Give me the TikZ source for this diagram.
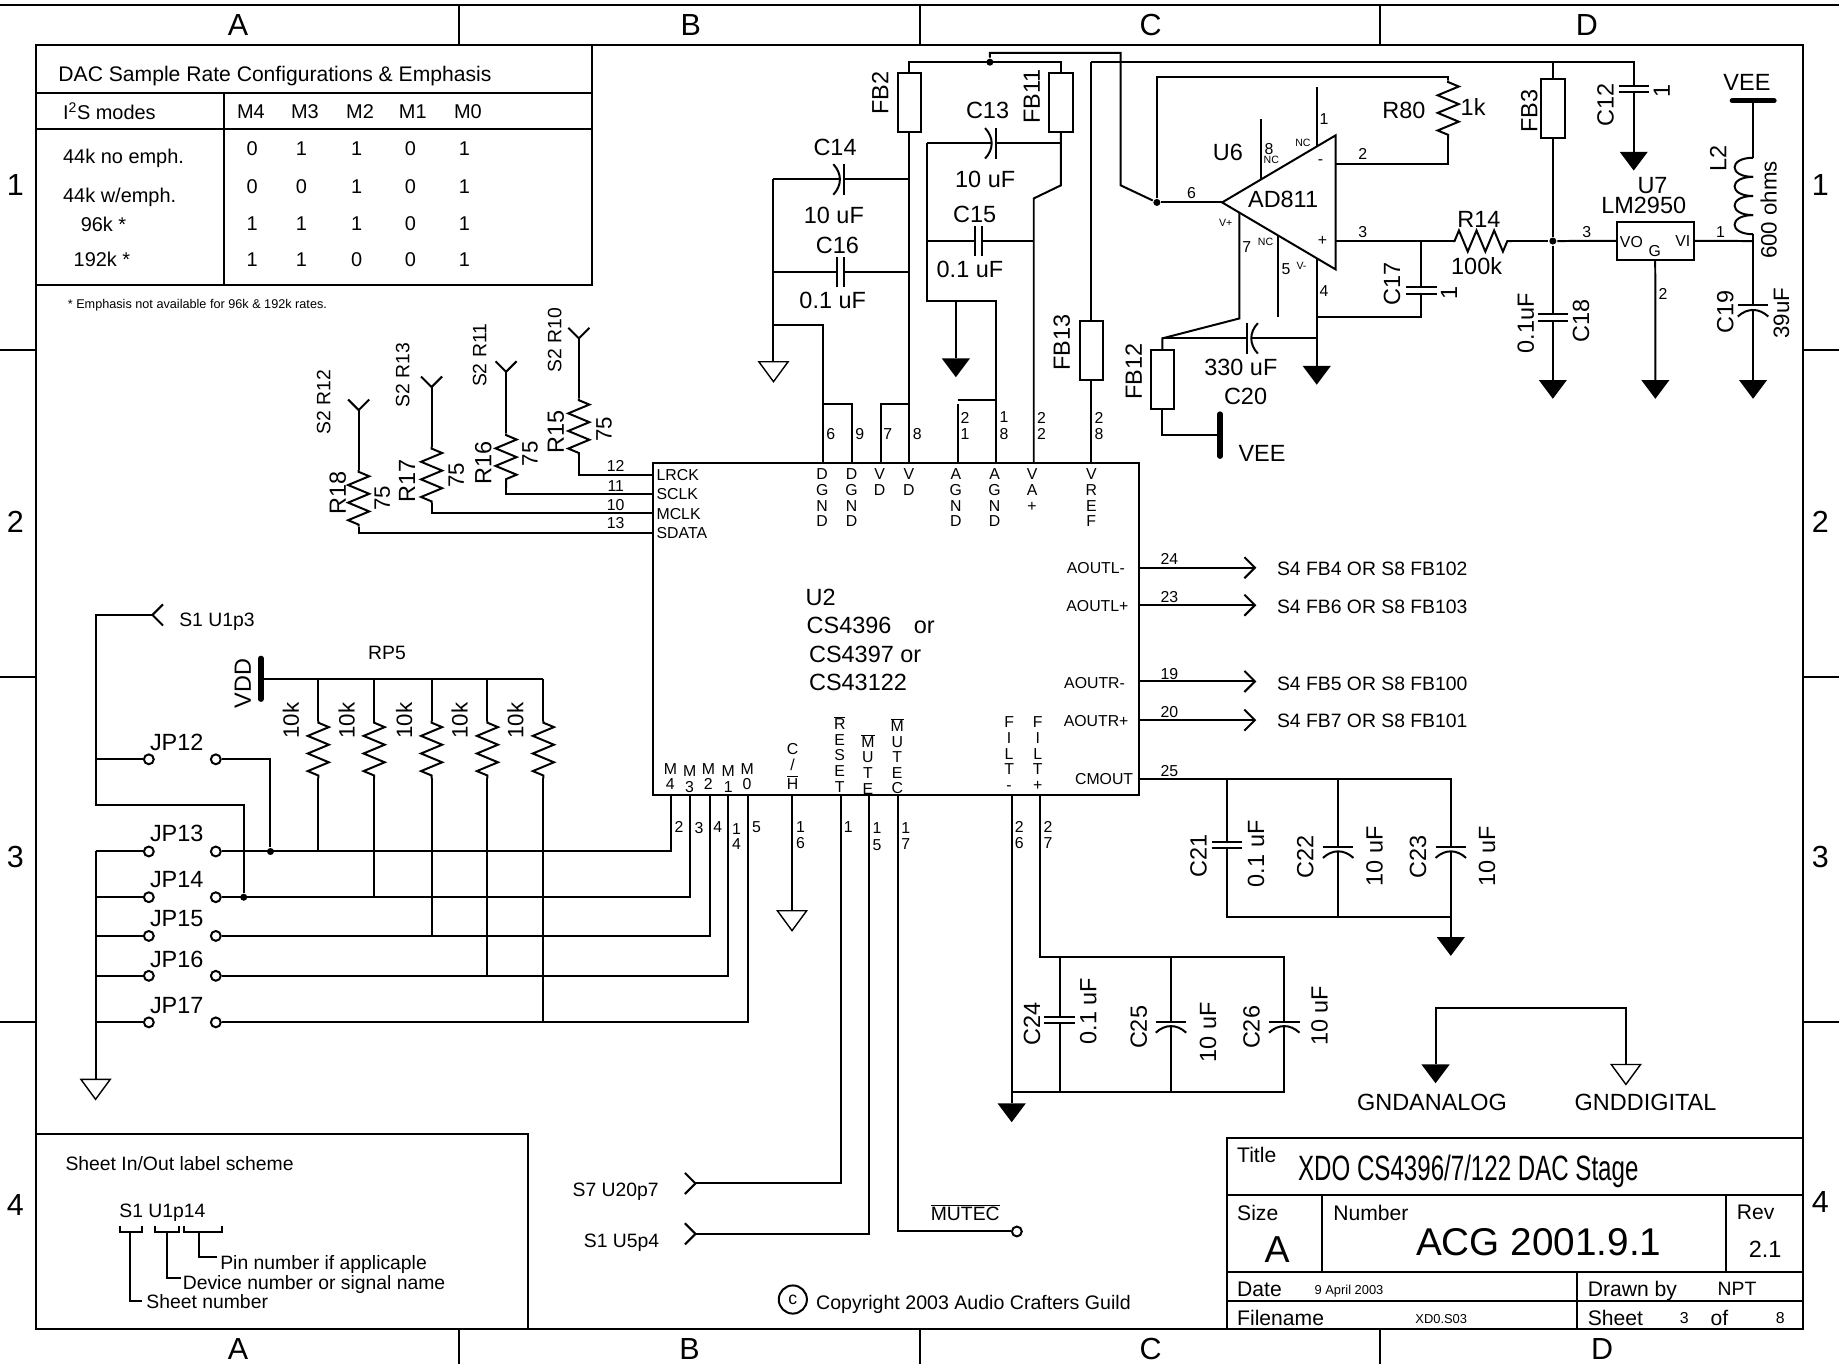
\documentclass[tikz,border=0pt]{standalone}
\usepackage{fontspec}
\setmainfont{Liberation Sans}
\usetikzlibrary{decorations.pathmorphing}
\lineskiplimit=-30pt
\tikzset{
	x=1pt,
	y=-1pt,
	every node/.style={inner sep=0pt},
	every path/.style={line width=1.7pt},
	big/.style={font=\fontsize{26}{28}\selectfont},
	lab/.style={font=\fontsize{20}{22}\selectfont},
	val/.style={font=\fontsize{19}{21}\selectfont},
	txt/.style={font=\fontsize{16.5}{18}\selectfont},
	tbl/.style={font=\fontsize{17}{19}\selectfont},
	blk/.style={font=\fontsize{18}{20}\selectfont},
	pin/.style={font=\fontsize{13.5}{15}\selectfont},
	nc/.style={font=\fontsize{9}{10}\selectfont},
	stack/.style={font=\fontsize{13.5}{13.3}\selectfont, align=center, anchor=north},
	fb/.style={draw, rectangle, minimum width=20pt, minimum height=50pt},
	jpc/.style={draw, circle, minimum size=8.4pt},
	jdot/.style={fill=black, circle, minimum size=6pt},
	res/.style={decorate, decoration={zigzag, segment length=15pt, amplitude=9pt, pre length=1.5pt, post length=1.5pt}},
	bar/.style={line width=4.5pt, line cap=round},
	pics/agnd/.style={code={\fill (-12,0) -- (12,0) -- (0,16) -- cycle;}},
	pics/dgnd/.style={code={\draw[line width=1.2pt] (-12.5,0) -- (12.5,0) -- (0,17) -- cycle;}},
	pics/fork/.style={code={\draw (-9,-9) -- (0,0) -- (9,-9);}},
	pics/cap/.style={code={
		\fill[white] (-3,-2.8) rectangle (3,2.8);
		\draw (-13,-2.8) -- (13,-2.8);
		\draw (-13,2.8) -- (13,2.8);
	}},
	pics/polcap/.style={code={
		\fill[white] (-3,-2) rectangle (3,1.9);
		\draw (-13,-2) -- (13,-2);
		\draw (-13,7.5) .. controls (-5,0) and (5,0) .. (13,7.5);
	}},
	pics/coil/.style={code={
		\foreach \i in {0,1,2,3}
			\draw (0,{16.3*\i}) .. controls (-21,{16.3*\i}) and (-21,{16.3*\i+16.3}) .. (0,{16.3*\i+16.3});
	}},
}
\begin{document}
\begin{tikzpicture}
	\useasboundingbox (0,0) rectangle (1568,1163);

	% sheet frame
	\draw (0,4) -- (1568,4);
	\draw (31,38) rectangle (1537,1133);
	\foreach \x in {391,784,1177} {
		\draw (\x,4) -- (\x,38);
		\draw (\x,1133) -- (\x,1163);
	}
	\foreach \y in {298,577,871} {
		\draw (0,\y) -- (31,\y);
		\draw (1537,\y) -- (1568,\y);
	}
	\foreach \t/\x/\xb in {A/203/203,B/589/588,C/981/981,D/1353/1366} {
		\node[big] (col\t) at (\x,21) {\t};
		\node[big] (bot\t) at (\xb,1150) {\t};
	}
	\foreach \t/\y/\yb in {1/158/158,2/445/445,3/731/731,4/1027/1025} {
		\node[big] (row\t) at (13,\y) {\t};
		\node[big] (rowr\t) at (1552,\yb) {\t};
	}

	% mode table
	\draw (31,38) rectangle (505,243);
	\draw (31,79) -- (505,79);
	\draw (31,110) -- (505,110);
	\draw (191,79) -- (191,243);
	\node[blk, anchor=west] (tabT) at (49,65) {DAC Sample Rate Configurations \& Emphasis};
	\node[tbl, anchor=west] (tabI) at (53,95) {I\textsuperscript{2}S modes};
	\foreach \t/\x in {M4/214,M3/260,M2/307,M1/352,M0/399}
		\node[tbl] (h\t) at (\x,95) {\t};
	\foreach \t/\x/\y [count=\r] in {44k no emph./53/135,{44k w/emph.}/53/168,96k */68/191,192k */62/221}
		\node[tbl, anchor=west] (rate\r) at (\x,\y) {\t};
	\foreach \y/\a/\b/\c/\d/\e [count=\r] in {127/0/1/1/0/1,159/0/0/1/0/1,191/1/1/1/0/1,221/1/1/0/0/1} {
		\node[tbl] (v\r a) at (215,\y) {\a};
		\node[tbl] (v\r b) at (257,\y) {\b};
		\node[tbl] (v\r c) at (304,\y) {\c};
		\node[tbl] (v\r d) at (350,\y) {\d};
		\node[tbl] (v\r e) at (396,\y) {\e};
	}
	\node[font=\fontsize{10.8}{12}\selectfont, anchor=west] (tabN) at (57,260) {* Emphasis not available for 96k \& 192k rates.};

	% U2
	\node[draw, anchor=north west, minimum width=414pt, minimum height=283pt] (U2) at (556,394) {};
	\foreach \n/\x in {6/702,9/726.5,7/751,8/775.3,21/816.4,18/849,22/881.4,28/930.5}
		\coordinate (top\n) at (\x,394);
	\foreach \n/\y in {12/405,11/421,10/437.7,13/454.2}
		\coordinate (left\n) at (556,\y);
	\foreach \n/\y in {24/484,23/516,19/581,20/614,25/664}
		\coordinate (right\n) at (970,\y);
	\foreach \n/\x in {2/572.3,3/588.5,4/605,14/621,5/637.6,16/675.3,1/717,15/741.3,17/765.7,26/862.6,27/887}
		\coordinate (pb\n) at (\x,677);
	\node[lab, anchor=west] (U2a) at (686,509) {U2};
	\node[lab, anchor=west] (U2b) at (687,533) {CS4396\hspace{19pt}or};
	\node[lab, anchor=west] (U2c) at (689,558) {CS4397 or};
	\node[lab, anchor=west] (U2d) at (689,582) {CS43122};
	\foreach \t/\y in {LRCK/405,SCLK/421.5,MCLK/438,SDATA/454.5}
		\node[pin, anchor=west] (s\t) at (559,\y) {\t};
	\foreach \t/\x/\y in {AOUTL-/960/484,AOUTL+/963/517,AOUTR-/960/582,AOUTR+/963/615,CMOUT/967/664}
		\node[pin, anchor=east] (s\t) at (\x,\y) {\t};
	\foreach \t/\x [count=\i] in {D\\G\\N\\D/701,D\\G\\N\\D/726,V\\D/750,V\\D/775,A\\G\\N\\D/815,A\\G\\N\\D/848,V\\A\\+/880,V\\R\\E\\F/930.5}
		\node[stack] (tp\i) at (\x,399) {\t};
	\foreach \t/\x/\y [count=\i] in {M\\4/571.6/650,M\\3/588/652,M\\2/604/650,M\\1/621/652,M\\0/637/650}
		\node[stack] (mp\i) at (\x,\y) {\t};
	\node[stack] (pCH) at (675.7,633) {C\\/\\[3pt]$\overline{\hbox{H}}$};
	\node[stack] (pRS) at (716,610) {$\overline{\hbox{R}}$\\E\\S\\E\\T};
	\node[stack] (pMU) at (740,625) {$\overline{\hbox{M}}$\\U\\T\\E};
	\node[stack] (pMC) at (765,611.5) {$\overline{\hbox{M}}$\\U\\T\\E\\C};
	\node[stack] (pFm) at (860.4,610.5) {F\\I\\L\\T\\-};
	\node[stack] (pFp) at (884.8,610.5) {F\\I\\L\\T\\+};
	\foreach \t/\x/\y [count=\i] in {12/525/397,11/525/414.4,10/525/430.6,13/525/446.3,
		6/708.3/370,9/733/370,7/757/370,8/782/370,2/822.8/356,1/822.8/370,1/856/356,8/856/370,2/888/356,2/888/370,2/937/356,8/937/370,
		24/997/477,23/997/509,19/997/575,20/997/607,25/997/657,
		2/579/705,3/596/706,4/612/705,1/628/707,4/628/720,5/645/705,1/682.6/705,6/682.6/718.5,1/723.3/705,1/747.8/706.3,5/747.8/720.5,1/772.3/706,7/772.3/720,2/869/705,6/869/718.5,2/893.6/705,7/893.6/718.5,
		6/1016/165,1/1129/101.8,8/1082/127,2/1162/131.6,3/1162/197.6,7/1063/211,5/1096.6/229.7,4/1129/248,3/1353/197.6,1/1467/197.6,2/1418/250.7}
		\node[pin] (n\i) at (\x,\y) {\t};

	% input resistors
	\foreach \n/\ln/\x/\ya/\yb/\yc/\yd in {15/12/493.5/288.5/339.7/388/405,16/11/431.5/317/369.5/416/421,17/10/368/330/381/429/437.7,18/13/305.8/349.6/400.8/449/454.2} {
		\coordinate (fk\n) at (\x,\ya);
		\coordinate (r\n a) at (\x,\yb);
		\coordinate (r\n b) at (\x,\yc);
		\coordinate (r\n c) at (\x,\yd);
		\pic at (fk\n) {fork};
		\draw (fk\n) -- (r\n a);
		\draw[res] (r\n a) -- (r\n b);
		\draw (r\n b) -- (r\n c) -- (left\ln);
	}
	\foreach \t/\x/\y [count=\i] in {S2 R10/473/290,S2 R11/409/303,S2 R13/343.4/320,S2 R12/276/343}
		\node[txt, rotate=90] (src\i) at (\x,\y) {\t};
	\foreach \t/\x/\y [count=\i] in {R15/474/368,R16/412/395,R17/347/410,R18/288/420}
		\node[lab, rotate=90] (rl\i) at (\x,\y) {\t};
	\foreach \x/\y [count=\i] in {515/366,452/387,389/405,326/425}
		\node[val, rotate=90] (rv\i) at (\x,\y) {75};

	% digital and analog supply
	\node[fb] (FB2) at (775.3,87.5) {};
	\node[fb] (FB11) at (904.6,87.5) {};
	\node[fb] (FB3) at (1324,92.4) {};
	\node[fb] (FB13) at (930.5,299) {};
	\node[fb] (FB12) at (991,323.3) {};
	\node[jdot] (dotT) at (844,53) {};
	\node[jdot] (dotU6) at (986.4,172.6) {};
	\node[jdot] (dotR) at (1324,205.5) {};
	\coordinate (railA) at (775.3,53);
	\coordinate (railB) at (904.6,53);
	\coordinate (up1) at (844,45);
	\coordinate (up2) at (955.5,45);
	\coordinate (up3) at (955.5,158);
	\coordinate (bendA) at (904.6,158);
	\coordinate (bendB) at (881.4,169.2);
	\coordinate (rail14) at (659.5,153);
	\coordinate (j14) at (775.3,153);
	\coordinate (rail16) at (659.5,231.7);
	\coordinate (j16) at (775.3,231.7);
	\coordinate (brA) at (659.5,277.4);
	\coordinate (brB) at (702,277.4);
	\coordinate (a6) at (702,344.5);
	\coordinate (a9) at (726.5,344.5);
	\coordinate (a7) at (751,344.5);
	\coordinate (a8) at (775.3,344.5);
	\coordinate (a21) at (816.4,344.5);
	\coordinate (b21) at (816.4,341);
	\coordinate (b18) at (849,341);
	\coordinate (rail13) at (790,122.2);
	\coordinate (j13) at (904.6,122.2);
	\coordinate (rail15) at (790,205.5);
	\coordinate (j15) at (881.4,205.5);
	\coordinate (low13) at (790,256.4);
	\coordinate (low18) at (849,256.4);
	\coordinate (lowG) at (815,256.4);
	\coordinate (rT1) at (930.5,53);
	\coordinate (rT2) at (1393,53);
	\coordinate (rT3) at (1324,53);
	\coordinate (g1) at (659.5,308.4);
	\coordinate (g2) at (815,305.6);
	\coordinate (g3) at (1393,129.4);
	\coordinate (g4) at (1324,324);
	\coordinate (g5) at (1122.7,312);
	\coordinate (g6) at (1411.4,324);
	\coordinate (g7) at (1494.7,324);
	\coordinate (g8) at (81.5,920.3);
	\coordinate (g9) at (675.3,776.5);
	\coordinate (g10) at (1237,799);
	\coordinate (g11) at (862.6,940.8);
	\coordinate (g12) at (1224,907.6);
	\coordinate (g13) at (1386.3,907.6);
	\foreach \g in {g2,g3,g4,g5,g6,g7,g10,g11,g12}
		\pic at (\g) {agnd};
	\foreach \g in {g1,g8,g9,g13}
		\pic at (\g) {dgnd};

	\draw (FB2.north) -- (railA) -- (railB) -- (FB11.north);
	\draw (dotT) -- (up1) -- (up2) -- (up3) -- (dotU6);
	\draw (FB2.south) -- (top8);
	\draw (FB11.south) -- (bendA) -- (bendB) -- (top22);
	\draw (rail14) -- (j14);
	\draw (rail16) -- (j16);
	\draw (rail14) -- (g1);
	\draw (brA) -- (brB) -- (top6);
	\draw (a6) -- (a9) -- (top9);
	\draw (top7) -- (a7) -- (a8);
	\draw (top21) -- (a21);
	\draw (b21) -- (b18);
	\draw (rail13) -- (j13);
	\draw (rail15) -- (j15);
	\draw (rail13) -- (low13) -- (low18) -- (top18);
	\draw (lowG) -- (g2);
	\draw (rT1) -- (rT2) -- (g3);
	\draw (rT1) -- (FB13.north);
	\draw (FB13.south) -- (top28);
	\draw (rT3) -- (FB3.north);
	\draw (FB3.south) -- (dotR) -- (g4);

	% U6
	\coordinate (opTip) at (1042,172.6);
	\coordinate (opTop) at (1138.8,115.4);
	\coordinate (opBot) at (1138.8,229.7);
	\draw (opTip) -- (opTop) -- (opBot) -- cycle;
	\coordinate (op1) at (1122.7,124.9);
	\coordinate (op1e) at (1122.7,73.9);
	\coordinate (op8) at (1075.2,153);
	\coordinate (op8e) at (1075.2,101.8);
	\coordinate (op5) at (1090,201);
	\coordinate (op5e) at (1090,270.6);
	\coordinate (op7) at (1056.8,181.4);
	\coordinate (op7e) at (1056.8,271.5);
	\coordinate (op4) at (1122.7,220.2);
	\coordinate (op4j) at (1122.7,270.6);
	\coordinate (c17b) at (1211.9,270.6);
	\coordinate (c17t) at (1211.9,205.5);
	\coordinate (op2) at (1138.8,140);
	\coordinate (op3) at (1138.8,205.5);
	\coordinate (fb12t) at (991,288.5);
	\coordinate (c20r) at (1122.7,288.5);
	\coordinate (fbk1) at (986.4,65.4);
	\coordinate (fbk2) at (1234.8,65.4);
	\coordinate (fbk2b) at (1234.8,68.5);
	\coordinate (fbk3) at (1234.8,118);
	\coordinate (fbk4) at (1234.8,140);
	\coordinate (r14a) at (1238.7,205.5);
	\coordinate (r14b) at (1289.2,205.5);
	\draw (dotU6) -- (opTip);
	\draw (dotU6) -- (fbk1) -- (fbk2) -- (fbk2b);
	\draw[res] (fbk2b) -- (fbk3);
	\draw (fbk3) -- (fbk4) -- (op2);
	\draw (op1) -- (op1e);
	\draw (op8) -- (op8e);
	\draw (op5) -- (op5e);
	\draw (op7) -- (op7e) -- (fb12t) -- (FB12.north);
	\draw (fb12t) -- (c20r);
	\draw (op4) -- (g5);
	\draw (op4j) -- (c17b) -- (c17t);
	\draw (op3) -- (r14a);
	\draw[res] (r14a) -- (r14b);
	\draw (r14b) -- (dotR);

	% U7 and L2
	\node[draw, minimum width=65.4pt, minimum height=32.7pt] (U7) at (1411.3,205.4) {};
	\coordinate (l2a) at (1494.7,85.9);
	\coordinate (l2b) at (1494.7,134.5);
	\coordinate (l2c) at (1494.7,199.7);
	\coordinate (l2j) at (1494.7,205.5);
	\coordinate (veeA) at (1477,85.9);
	\coordinate (veeB) at (1512.6,85.9);
	\draw[bar] (veeA) -- (veeB);
	\draw (dotR) -- (U7.west);
	\draw (U7.east) -- (l2j);
	\draw (U7.south) -- (g6);
	\draw (l2a) -- (l2b);
	\pic at (l2b) {coil};
	\draw (l2c) -- (g7);
	\coordinate (fb12b) at (991,370.7);
	\coordinate (vee2) at (1040.3,370.7);
	\coordinate (vee2a) at (1040.3,353);
	\coordinate (vee2b) at (1040.3,389);
	\draw (FB12.south) -- (fb12b) -- (vee2);
	\draw[bar] (vee2a) -- (vee2b);

	% capacitors
	\pic[rotate=-90] (C14) at (718,153) {polcap};
	\pic[rotate=-90] (C13) at (847.4,122.2) {polcap};
	\pic[rotate=90] (C20) at (1065,288.5) {polcap};
	\pic[rotate=90] (C16) at (716.5,231.7) {cap};
	\pic[rotate=90] (C15) at (834.5,205.5) {cap};
	\pic (C12) at (1393,76) {cap};
	\pic (C17) at (1211.9,247.5) {cap};
	\pic (C18) at (1324,270.7) {cap};
	\pic (C19) at (1494.7,262.4) {polcap};

	% supply labels
	\foreach \t/\x/\y [count=\i] in {C14/712/126,10 uF/711/184,C16/714/209,0.1 uF/710/256,C13/842/94,10 uF/840/153,C15/831/183,0.1 uF/827/230,330 uF/1058/313,C20/1062/338,U6/1047/130,AD811/1094/170,R80/1197/94,1k/1256/91,R14/1261/187,100k/1259/227,U7/1409/158,LM2950/1401.5/175.4,VEE/1489.5/70.5,VEE/1076/387,JP12/150.7/633,JP13/150.7/711,JP14/150.7/750,JP15/150.7/783,JP16/150.7/818,JP17/150.7/857}
		\node[lab] (sl\i) at (\x,\y) {\t};
	\foreach \t/\x/\y [count=\i] in {FB2/750.4/79.6,FB11/879.7/82.5,FB13/905.3/292,FB12/966.6/317,FB3/1304/94.7,C12/1369/89.6,1/1417/77.3,C17/1187/242,1/1235.5/249.6,0.1uF/1301/275.7,C18/1348/274,L2/1465/135,C19/1471/265.8,VDD/207/582.6,
		C21/1022/730,0.1 uF/1071/728,C22/1113/731,10 uF/1172/730,C23/1209/731,10 uF/1268/730,C24/880/873,0.1 uF/928/862,C25/971/876,10 uF/1030/880,C26/1067/876,10 uF/1125/866}
		\node[lab, rotate=90] (sr\i) at (\x,\y) {\t};
	\node[val, rotate=90] (L2v) at (1508,179) {600 ohms};
	\node[val, rotate=90] (C19v) at (1519,267) {39uF};
	\foreach \t/\x/\y [count=\i] in {NC/1110.9/122,NC/1084/136.5,NC/1079/205.8,V+/1045/189.6,V-/1109.7/226.8}
		\node[nc] (nc\i) at (\x,\y) {\t};
	\node[pin] (opM) at (1126,138.4) {-};
	\node[pin] (opP) at (1127.7,205.8) {+};
	\node[pin] (u7a) at (1391,206) {VO};
	\node[pin] (u7b) at (1411,213.8) {G};
	\node[pin] (u7c) at (1434.8,205.8) {VI};

	% outputs
	\foreach \n/\y/\t/\ly in {24/484/S4 FB4 OR S8 FB102/485,23/516/S4 FB6 OR S8 FB103/517,19/581/S4 FB5 OR S8 FB100/583,20/614/S4 FB7 OR S8 FB101/615} {
		\coordinate (out\n) at (1070,\y);
		\draw (right\n) -- (out\n);
		\pic[rotate=90] at (out\n) {fork};
		\node[txt, anchor=west] (outl\n) at (1088,\ly) {\t};
	}

	% CMOUT and FILT capacitors
	\coordinate (cm1) at (1046,664);
	\coordinate (cm2) at (1141,664);
	\coordinate (cm3) at (1237,664);
	\coordinate (cm1b) at (1046,781.6);
	\coordinate (cm2b) at (1141,781.6);
	\coordinate (cm3b) at (1237,781.6);
	\draw (right25) -- (cm3) -- (g10);
	\draw (cm1) -- (cm1b) -- (cm3b);
	\draw (cm2) -- (cm2b);
	\pic (C21) at (1046,720.5) {cap};
	\pic (C22) at (1141,724) {polcap};
	\pic (C23) at (1237,724) {polcap};
	\coordinate (f27) at (887,816);
	\coordinate (f24) at (903.4,816);
	\coordinate (f25) at (998.4,816);
	\coordinate (f26) at (1095,816);
	\coordinate (f24b) at (903.4,930.8);
	\coordinate (f25b) at (998.4,930.8);
	\coordinate (f26b) at (1095,930.8);
	\coordinate (f0b) at (862.6,930.8);
	\draw (pb26) -- (g11);
	\draw (pb27) -- (f27) -- (f26) -- (f26b) -- (f0b);
	\draw (f24) -- (f24b);
	\draw (f25) -- (f25b);
	\pic (C24) at (903.4,869.7) {cap};
	\pic (C25) at (998.4,873) {polcap};
	\pic (C26) at (1095,873) {polcap};

	% mode jumpers
	\foreach \n/\y/\ly in {12/647.4/633,13/726/710.5,14/765/749.7,15/798/782.4,16/832/817,17/871.7/857} {
		\node[jpc] (JP\n a) at (126.9,\y) {};
		\node[jpc] (JP\n b) at (184,\y) {};
		\coordinate (jr\n) at (81.5,\y);
		\draw (jr\n) -- (JP\n a);
	}
	\node[jdot] (dot13) at (230.6,726) {};
	\node[jdot] (dot14) at (207.8,765) {};
	\coordinate (s1tip) at (130,524.3);
	\coordinate (s1a) at (81.5,524.3);
	\coordinate (s1b) at (81.5,686.3);
	\coordinate (s1c) at (207.8,686.3);
	\coordinate (jp12c) at (230.6,647.4);
	\draw (s1tip) -- (s1a) -- (s1b) -- (s1c) -- (dot14);
	\pic[rotate=-90] at (s1tip) {fork};
	\draw (jr13) -- (g8);
	\draw (JP12b) -- (jp12c) -- (dot13);
	\foreach \a/\y/\x/\p in {13/726/572.3/2,14/765/588.5/3,15/798/605/4,16/832/621/14,17/871.7/637.6/5} {
		\coordinate (mc\a) at (\x,\y);
		\draw (JP\a b) -- (mc\a) -- (pb\p);
	}
	\node[txt, anchor=west] (s1l) at (152,530) {S1 U1p3};
	\coordinate (vdd) at (222.5,578.9);
	\coordinate (vdda) at (222.5,561.3);
	\coordinate (vddb) at (222.5,596.2);
	\coordinate (vddc) at (463.3,578.9);
	\draw[bar] (vdda) -- (vddb);
	\draw (vdd) -- (vddc);
	\foreach \x/\y [count=\i] in {271.4/726,319/765,368/798,415.6/832,463.3/871.7} {
		\coordinate (rpT\i) at (\x,578.9);
		\coordinate (rpA\i) at (\x,614.7);
		\coordinate (rpB\i) at (\x,663.6);
		\coordinate (rpE\i) at (\x,\y);
		\draw (rpT\i) -- (rpA\i);
		\draw[res] (rpA\i) -- (rpB\i);
		\draw (rpB\i) -- (rpE\i);
	}
	\foreach \x [count=\i] in {248,295.6,344.5,392,439.5}
		\node[val, rotate=90] (rp\i) at (\x,614.4) {10k};
	\node[txt] (RP5) at (330,557) {RP5};

	% pins going off sheet
	\coordinate (s7tip) at (593,1009);
	\coordinate (s7c) at (717,1009);
	\coordinate (s1ptip) at (593,1052);
	\coordinate (s1pc) at (741.3,1052);
	\coordinate (mtc) at (765.7,1050);
	\node[jpc] (mutec) at (867,1050) {};
	\draw (pb16) -- (g9);
	\draw (pb1) -- (s7c) -- (s7tip);
	\draw (pb15) -- (s1pc) -- (s1ptip);
	\draw (pb17) -- (mtc) -- (mutec);
	\pic[rotate=90] at (s7tip) {fork};
	\pic[rotate=90] at (s1ptip) {fork};
	\node[txt] (s7l) at (525,1016) {S7 U20p7};
	\node[txt] (s1pl) at (530,1060) {S1 U5p4};
	\node[txt] (mtl) at (823,1034) {$\overline{\hbox{MUTEC}}$};

	% ground key
	\coordinate (gk1) at (1224,859.5);
	\coordinate (gk2) at (1386.3,859.5);
	\draw (g12) -- (gk1) -- (gk2) -- (g13);
	\node[lab] (gkA) at (1221,940) {GNDANALOG};
	\node[lab] (gkD) at (1403,940) {GNDDIGITAL};

	% label scheme
	\draw (31,967) rectangle (450,1133);
	\node[txt, anchor=west] (schT) at (55,992) {Sheet In/Out label scheme};
	\node[txt, anchor=west] (schL) at (101,1034) {S1 U1p14};
	\draw (102.4,1045.4) -- (102.4,1050.2) -- (121.2,1050.2) -- (121.2,1045.4);
	\draw (132,1045.4) -- (132,1050.2) -- (152.2,1050.2) -- (152.2,1045.4);
	\draw (156.6,1045.4) -- (156.6,1050.2) -- (189.6,1050.2) -- (189.6,1045.4);
	\draw (111,1050.2) -- (111,1109.3) -- (121,1109.3);
	\draw (142,1050.2) -- (142,1089.4) -- (154,1089.4);
	\draw (170,1050.2) -- (170,1071.5) -- (185,1071.5);
	\node[txt, anchor=west] (schS) at (124,1110) {Sheet number};
	\node[txt, anchor=west] (schD) at (155,1095) {Device number or signal name};
	\node[txt, anchor=west] (schP) at (187,1078) {Pin number if applicaple};
	\node[draw, circle, minimum size=24pt, font=\fontsize{15}{16}\selectfont] (copyc) at (676,1108) {c};
	\node[font=\fontsize{16.7}{18}\selectfont, anchor=west] (copyt) at (695,1112) {Copyright 2003 Audio Crafters Guild};

	% title block
	\draw (1046,970) rectangle (1537,1133);
	\draw (1046,1019) -- (1537,1019);
	\draw (1046,1084.4) -- (1537,1084.4);
	\draw (1046,1109.4) -- (1537,1109.4);
	\draw (1127.4,1019) -- (1127.4,1084.4);
	\draw (1471.4,1019) -- (1471.4,1084.4);
	\draw (1344.6,1084.4) -- (1344.6,1133);
	\foreach \t/\x/\y [count=\i] in {Title/1054/985,Size/1054/1034,Number/1136/1034,Rev/1480/1034,Date/1054/1099,Filename/1054/1124,Drawn by/1353/1101,Sheet/1353/1124}
		\node[blk, anchor=west] (tb\i) at (\x,\y) {\t};
	\node[anchor=west, font=\fontsize{30}{32}\selectfont] (tbT) at (1106,999) {\scalebox{.685}[1]{XDO CS4396/7/122 DAC Stage}};
	\node[font=\fontsize{32}{34}\selectfont] (tbA) at (1089,1065) {A};
	\node[font=\fontsize{33}{35}\selectfont] (tbN) at (1312,1059) {ACG 2001.9.1};
	\node[lab] (tbR) at (1505,1065) {2.1};
	\node[font=\fontsize{11}{12}\selectfont, anchor=west] (tbD) at (1120,1101) {9 April 2003};
	\node[font=\fontsize{11}{12}\selectfont, anchor=west] (tbF) at (1206,1125) {XD0.S03};
	\node[txt] (tbB) at (1481,1099) {NPT};
	\node[pin] (tbS) at (1436,1124) {3};
	\node[blk] (tbO) at (1466,1124) {of};
	\node[pin] (tbE) at (1518,1124) {8};
\end{tikzpicture}
\end{document}
